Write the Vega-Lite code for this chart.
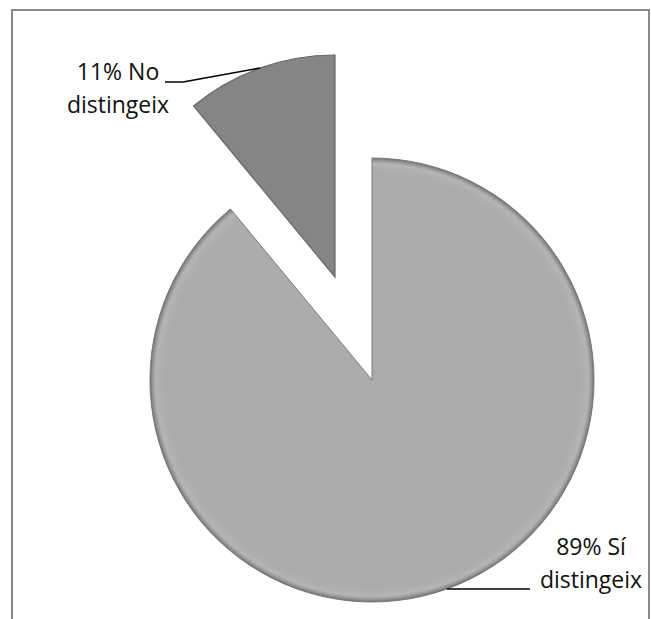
{
  "$schema": "https://vega.github.io/schema/vega-lite/v6.json",
  "width": 637,
  "height": 640,
  "autosize": {"type": "none"},
  "padding": {"left": 12, "top": 10, "right": 2, "bottom": 0},
  "background": "white",
  "config": {"view": {"stroke": "#898989", "strokeWidth": 2}},
  "data": {
    "values": [
      {"resposta": "Sí distingeix", "percentatge": 89, "etiqueta": "89% Sí\ndistingeix"},
      {"resposta": "No distingeix", "percentatge": 11, "etiqueta": "11% No\ndistingeix"}
    ]
  },
  "layer": [
    {
      "mark": {
        "type": "arc", "radius": 222, "xOffset": 41.5, "yOffset": 50, "stroke": "#7a7a7a", "strokeWidth": 1,
        "fill": {"gradient": "radial", "stops": [
          {"offset": 0, "color": "#acacac"},
          {"offset": 0.94, "color": "#acacac"},
          {"offset": 0.975, "color": "#b4b4b4"},
          {"offset": 0.99, "color": "#939393"},
          {"offset": 1, "color": "#6e6e6e"}
        ]}
      },
      "encoding": {
        "theta": {"field": "percentatge", "type": "quantitative", "stack": true},
        "order": {"field": "percentatge", "sort": "descending"},
        "opacity": {"condition": {"test": "datum.resposta === 'Sí distingeix'", "value": 1}, "value": 0}
      }
    },
    {
      "mark": {"type": "arc", "radius": 222, "xOffset": 4.5, "yOffset": -53, "stroke": "#666666", "strokeWidth": 1.2, "fill": "#858585"},
      "encoding": {
        "theta": {"field": "percentatge", "type": "quantitative", "stack": true},
        "order": {"field": "percentatge", "sort": "descending"},
        "opacity": {"condition": {"test": "datum.resposta === 'No distingeix'", "value": 1}, "value": 0}
      }
    },
    {
      "transform": [{"filter": "datum.resposta === 'Sí distingeix'"}],
      "mark": {"type": "text", "font": "Open Sans", "fontSize": 23, "lineHeight": 33, "lineBreak": "\n", "align": "center", "baseline": "middle", "color": "#111111", "xOffset": 260.5, "yOffset": 218},
      "encoding": {"text": {"field": "etiqueta", "type": "nominal"}}
    },
    {
      "transform": [{"filter": "datum.resposta === 'No distingeix'"}],
      "mark": {"type": "text", "font": "Open Sans", "fontSize": 23, "lineHeight": 33, "lineBreak": "\n", "align": "center", "baseline": "middle", "color": "#111111", "xOffset": -212.5, "yOffset": -257},
      "encoding": {"text": {"field": "etiqueta", "type": "nominal"}}
    },
    {
      "transform": [{"filter": "datum.resposta === 'Sí distingeix'"}],
      "mark": {"type": "rule", "color": "#000000", "strokeWidth": 1.5},
      "encoding": {"x": {"value": 435}, "x2": {"value": 518}, "y": {"value": 579}, "y2": {"value": 579}}
    },
    {
      "transform": [{"filter": "datum.resposta === 'No distingeix'"}],
      "mark": {"type": "rule", "color": "#000000", "strokeWidth": 1.5},
      "encoding": {"x": {"value": 153}, "x2": {"value": 171}, "y": {"value": 72}, "y2": {"value": 72}}
    },
    {
      "transform": [{"filter": "datum.resposta === 'No distingeix'"}],
      "mark": {"type": "rule", "color": "#000000", "strokeWidth": 1.5},
      "encoding": {"x": {"value": 171}, "x2": {"value": 248}, "y": {"value": 72}, "y2": {"value": 58}}
    }
  ]
}
